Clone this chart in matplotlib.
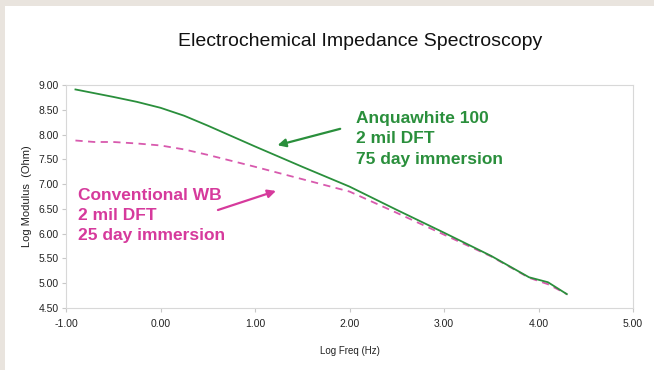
import matplotlib
matplotlib.use("Agg")
import matplotlib.pyplot as plt
from matplotlib.patches import Rectangle

# Data
x_green = [-0.9, -0.5, -0.25, 0.0, 0.25, 0.5, 0.75, 1.0, 1.5, 2.0, 2.5, 3.0, 3.5, 3.9, 4.1, 4.3]
y_green = [8.91, 8.76, 8.66, 8.54, 8.38, 8.18, 7.97, 7.76, 7.35, 6.95, 6.48, 6.02, 5.55, 5.12, 5.02, 4.78]
x_pink = [-0.9, -0.7, -0.5, -0.25, 0.0, 0.25, 0.5, 0.75, 1.0, 1.5, 2.0, 2.5, 3.0, 3.5, 3.9, 4.1, 4.3]
y_pink = [7.88, 7.85, 7.85, 7.82, 7.78, 7.70, 7.59, 7.47, 7.35, 7.10, 6.85, 6.42, 5.98, 5.54, 5.11, 4.98, 4.78]
x_ticks = [-1.0, 0.0, 1.0, 2.0, 3.0, 4.0, 5.0]
y_ticks = [4.5, 5.0, 5.5, 6.0, 6.5, 7.0, 7.5, 8.0, 8.5, 9.0]

green = "#2a8f3c"
pink = "#d85aae"
pink_text = "#d63a9c"

plt.rcParams['font.family'] = ['Liberation Sans', 'DejaVu Sans']

fig = plt.figure(figsize=(6.54, 3.70), dpi=100)
fig.patch.set_facecolor("#e9e4de")
fig.patches.append(Rectangle((5/654, 0), 1, 1 - 6/370, transform=fig.transFigure,
                             facecolor="white", edgecolor="none", zorder=-10))

ax = fig.add_axes([66/654, 1 - 308/370, (633 - 66)/654, (308 - 85)/370])
ax.set_zorder(1)
ax.set_facecolor("white")
ax.plot(x_pink, y_pink, color=pink, lw=1.3, ls=(0, (4, 3)))
ax.plot(x_green, y_green, color=green, lw=1.3)

ax.set_xlim(-1, 5)
ax.set_ylim(4.5, 9.0)
ax.set_xticks(x_ticks)
ax.set_yticks(y_ticks)
ax.set_xticklabels([f"{v:.2f}" for v in x_ticks])
ax.set_yticklabels([f"{v:.2f}" for v in y_ticks])
for s in ax.spines.values():
    s.set_color("#d8d8d8")
    s.set_linewidth(0.8)
ax.tick_params(axis="both", colors="#c8c8c8", labelcolor="#222222",
               labelsize=7.5, length=3, width=0.8)
ax.tick_params(axis="x", pad=5)
ax.tick_params(axis="y", pad=2)

ax.set_xlabel("Log Freq (Hz)", fontsize=7, color="#222222", labelpad=12)
ax.set_ylabel("Log Modulus  (Ohm)", fontsize=8, color="#222222", labelpad=5)

fig.text(360/654, 1 - 42/370, "Electrochemical Impedance Spectroscopy",
         ha="center", va="center", fontsize=14, color="#111111")

ax.annotate("", xy=(1.21, 7.77), xytext=(1.93, 8.13),
            arrowprops=dict(arrowstyle="-|>", color=green, lw=1.6,
                            mutation_scale=12))
ax.text(2.07, 8.48, "Anquawhite 100\n2 mil DFT\n75 day immersion",
        color=green, fontsize=12.5, fontweight="bold", va="top", ha="left",
        linespacing=1.45)

ax.annotate("", xy=(1.25, 6.88), xytext=(0.58, 6.46),
            arrowprops=dict(arrowstyle="-|>", color=pink_text, lw=1.6,
                            mutation_scale=12))
ax.text(-0.87, 6.93, "Conventional WB\n2 mil DFT\n25 day immersion",
        color=pink_text, fontsize=12.5, fontweight="bold", va="top", ha="left",
        linespacing=1.45)

fig.savefig("out.png", dpi=100, facecolor=fig.get_facecolor())
